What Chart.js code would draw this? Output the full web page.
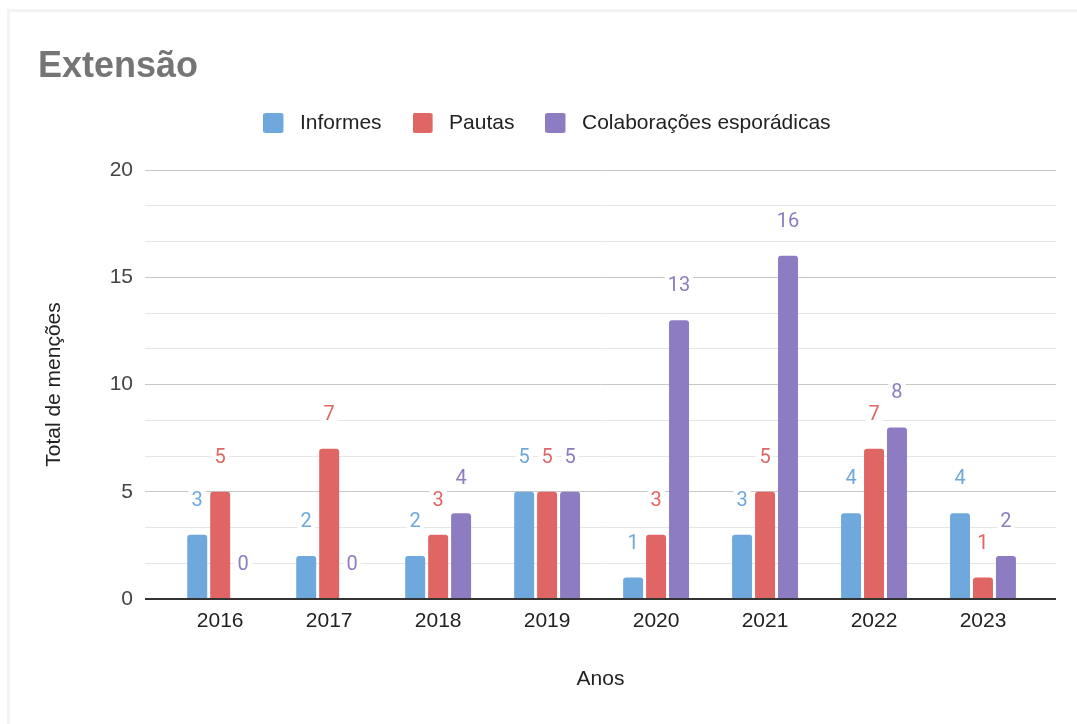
<!DOCTYPE html>
<html lang="pt-BR">
<head>
<meta charset="utf-8">
<title>Extensão</title>
<script src="https://cdn.jsdelivr.net/npm/chart.js@4.4.1/dist/chart.umd.min.js"></script>
<style>
  html, body { margin: 0; padding: 0; background: #fff; overflow: hidden; }
  #moldura {
    position: absolute; left: 7px; top: 9px; right: 0; bottom: 0;
    border-top: 3px solid #f3f3f3; border-left: 3px solid #f3f3f3;
  }
  #grafico { position: absolute; left: 0; top: 0; }
</style>
</head>
<body>
<div id="moldura"></div>
<canvas id="grafico" width="1077" height="724"></canvas>
<script>
// Dados
const anos = ['2016', '2017', '2018', '2019', '2020', '2021', '2022', '2023'];
const informes = [3, 2, 2, 5, 1, 3, 4, 4];
const pautas = [5, 7, 3, 5, 3, 5, 7, 1];
const colaboracoes = [0, 0, 4, 5, 13, 16, 8, 2];
const marcasY = [0, 5, 10, 15, 20];

const nomes = ['Informes', 'Pautas', 'Colaborações esporádicas'];
const cores = ['#6fa8dc', '#e06666', '#8e7cc3'];

const fonteTexto = "'Liberation Sans', Arial, sans-serif";
Chart.defaults.font.family = fonteTexto;

// Marcador da legenda: quadrado arredondado com espaço à direita
function criarMarcador(cor) {
    const c = document.createElement('canvas');
    c.width = 26;
    c.height = 20;
    const g = c.getContext('2d');
    g.fillStyle = cor;
    g.beginPath();
    g.roundRect(0, 0, 20, 20, 2);
    g.fill();
    return c;
}
const marcadores = cores.map(criarMarcador);

function ehMarcaPrincipal(v) {
    return marcasY.some(m => Math.abs(m - v) < 1e-6);
}

function pontos(valores) {
    return valores.map((v, i) => ({ x: i, y: v }));
}

// Rótulos de valor acima das barras, com fundo branco
const rotulosValores = {
    id: 'rotulosValores',
    afterDatasetsDraw(chart) {
        const ctx = chart.ctx;
        ctx.save();
        ctx.font = "20px Roboto, 'Liberation Sans', sans-serif";
        ctx.textAlign = 'center';
        ctx.textBaseline = 'middle';
        chart.data.datasets.forEach((ds, i) => {
            const meta = chart.getDatasetMeta(i);
            meta.data.forEach((barra, j) => {
                const texto = String(ds.data[j].y);
                const y = barra.y - 34;
                const w = ctx.measureText(texto).width + 6;
                ctx.fillStyle = '#ffffff';
                ctx.fillRect(barra.x - w / 2, y - 11, w, 22);
                ctx.fillStyle = cores[i];
                ctx.fillText(texto, barra.x, y);
            });
        });
        ctx.restore();
    }
};

new Chart(document.getElementById('grafico').getContext('2d'), {
    type: 'bar',
    data: {
        datasets: [
            { label: nomes[0], data: pontos(informes), backgroundColor: cores[0] },
            { label: nomes[1], data: pontos(pautas), backgroundColor: cores[1] },
            { label: nomes[2], data: pontos(colaboracoes), backgroundColor: cores[2] }
        ]
    },
    options: {
        responsive: false,
        animation: false,
        categoryPercentage: 0.632,
        barPercentage: 0.87,
        borderRadius: 3,
        layout: { padding: { top: 0, left: 38, right: 21, bottom: 24 } },
        plugins: {
            title: {
                display: true,
                text: 'Extensão',
                align: 'start',
                color: '#757575',
                font: { size: 36, weight: 'bold', lineHeight: 0.55 },
                padding: { top: 57.1, bottom: 4.6 }
            },
            subtitle: {
                // só espaço entre a legenda e a área do gráfico
                display: true,
                text: '',
                weight: 500,
                font: { size: 1, lineHeight: 1 },
                padding: { top: 25.5, bottom: 0 }
            },
            legend: {
                position: 'top',
                align: 'center',
                labels: {
                    usePointStyle: true,
                    pointStyleWidth: 26,
                    boxWidth: 20,
                    boxHeight: 20,
                    padding: 31,
                    color: '#222222',
                    font: { size: 21 },
                    generateLabels(chart) {
                        const itens = Chart.defaults.plugins.legend.labels.generateLabels(chart);
                        itens.forEach((item, i) => { item.pointStyle = marcadores[i]; });
                        return itens;
                    }
                }
            },
            tooltip: { enabled: false }
        },
        scales: {
            x: {
                type: 'linear',
                bounds: 'data',
                min: -0.69,
                max: 7.67,
                offset: false,
                afterBuildTicks(scale) {
                    scale.ticks = anos.map((a, i) => ({ value: i }));
                },
                afterFit(scale) { scale.height = 101; },
                grid: { display: false, offset: false, drawTicks: false },
                border: { display: false },
                ticks: {
                    autoSkip: false,
                    maxRotation: 0,
                    padding: 9.4,
                    color: '#222222',
                    font: { size: 21 },
                    callback: v => anos[v]
                },
                title: {
                    display: true,
                    text: 'Anos',
                    color: '#222222',
                    font: { size: 21 },
                    padding: { top: 0, bottom: 8.4 }
                }
            },
            y: {
                min: 0,
                max: 20,
                afterFit(scale) { scale.width = 107; },
                grid: {
                    drawTicks: false,
                    color: c => c.tick.value === 0 ? '#333333' : (ehMarcaPrincipal(c.tick.value) ? '#c8c8c8' : '#e6e6e6'),
                    lineWidth: c => c.tick.value === 0 ? 2 : 1
                },
                border: { display: false },
                ticks: {
                    stepSize: 5 / 3,
                    padding: 12,
                    color: '#444444',
                    font: { size: 21 },
                    callback: v => ehMarcaPrincipal(v) ? String(Math.round(v)) : ''
                },
                title: {
                    display: true,
                    text: 'Total de menções',
                    color: '#222222',
                    font: { size: 21 },
                    padding: { top: 3.4, bottom: 0 }
                }
            }
        }
    },
    plugins: [rotulosValores]
});
</script>
</body>
</html>
